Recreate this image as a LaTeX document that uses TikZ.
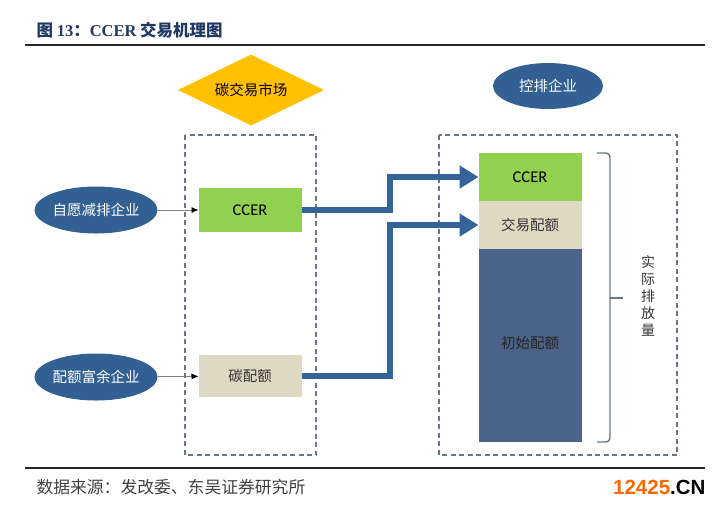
\documentclass[tikz,border=0pt]{standalone}
\usepackage{fontspec}
\setmainfont{Carlito}
\newfontfamily\cjk{Noto Sans CJK SC}
\newfontfamily\serif{Liberation Serif}
\newfontfamily\wmark{Liberation Sans}
\usetikzlibrary{positioning,shapes.geometric,arrows.meta}

\definecolor{titleblue}{RGB}{31,56,100}
\definecolor{entblue}{RGB}{50,96,146}
\definecolor{flowblue}{RGB}{51,99,153}
\definecolor{marketgold}{RGB}{255,192,0}
\definecolor{ccergreen}{RGB}{146,208,80}
\definecolor{quotabeige}{RGB}{221,217,195}
\definecolor{initblue}{RGB}{75,99,136}
\definecolor{boxgray}{RGB}{105,118,138}
\definecolor{wmorange}{RGB}{255,102,0}

\tikzset{
  firm/.style={ellipse,fill=entblue,text=white,minimum width=116pt,minimum height=47pt,
    inner sep=0pt,font=\cjk\fontsize{14.5}{17}\selectfont},
  market/.style={diamond,fill=marketgold,inner sep=0pt,aspect=2.05,
    minimum width=146pt,minimum height=71pt,font=\cjk\fontsize{14.5}{17}\selectfont},
  quota/.style={rectangle,inner sep=0pt,outer sep=0pt,minimum width=103pt,
    font=\cjk\fontsize{14.5}{17}\selectfont,text=black!80},
  ccertext/.style={font=\fontsize{16.5}{18}\selectfont,text=black},
  group/.style={draw=boxgray,line width=1.3pt,dash pattern=on 5pt off 3.5pt},
  feed/.style={draw=gray,line width=0.8pt,-{Latex[black,length=7pt,width=6pt]}},
  flow/.style={draw=flowblue,line width=6pt,-{Triangle[width=22pt,length=19pt]}},
  emitbrace/.style={draw=boxgray,line width=1.4pt,rounded corners=4pt},
  rule/.style={draw=black!85,line width=1.8pt}
}

\begin{document}
\begin{tikzpicture}[x=1pt,y=-1pt]
	\useasboundingbox (0,0) rectangle (720,509);
	\node[anchor=west,text=titleblue,font=\bfseries\fontsize{16.5}{19}\selectfont] (title) at (33,30)
		{{\cjk 图} {\serif 13}{\cjk ：}{\serif CCER} {\cjk 交易机理图}};
	\draw[rule] (25,45) -- (705,45);

	\draw[group] (185,135) rectangle (316,455);
	\draw[group] (439,135) rectangle (677,455);

	\node[market] (market) at (251,90) {碳交易市场};
	\node[firm,minimum width=110pt,minimum height=46pt] (ctrl) at (548,86) {控排企业};
	\node[firm] (vol) at (96,210) {自愿减排企业};
	\node[firm] (surplus) at (96,377) {配额富余企业};

	\node[quota,fill=ccergreen,minimum height=44pt,ccertext] (ccerL) at (250,210) {CCER};
	\node[quota,fill=quotabeige,minimum height=42pt] (carbonQ) at (250,376) {碳配额};

	\node[quota,fill=ccergreen,minimum height=48pt,ccertext] (ccerR) at (530,177) {CCER};
	\node[quota,fill=quotabeige,minimum height=48pt,below=0pt of ccerR] (tradeR) {交易配额};
	\node[quota,fill=initblue,minimum height=193pt,below=0pt of tradeR,text=black!85] (initR) {\raisebox{6pt}{初始配额}};

	\draw[feed] (vol) -- (ccerL);
	\draw[feed] (surplus) -- (carbonQ);

	\draw[flow] (ccerL.east) -- ++(88,0) |- (ccerR.west);
	\draw[flow] (carbonQ.east) -- ++(88,0) |- (tradeR.west);

	% brace
	\draw[emitbrace] (597,153) -- (610,153) -- (610,442) -- (597,442);
	\draw[emitbrace] (610,298) -- (623,298);
	\node[align=center,font=\cjk\fontsize{14}{17}\selectfont,text=black!80] (actual) at (648,296) {实\\际\\排\\放\\量};

	\draw[rule] (25,468) -- (705,468);
	\node[anchor=west,font=\cjk\fontsize{16.8}{19}\selectfont,text=black!75] (src) at (33,487) {数据来源：发改委、东吴证券研究所};
	\node[anchor=east,font=\wmark\bfseries\fontsize{20.5}{22}\selectfont] (wm) at (709,487) {\textcolor{wmorange}{12425}.CN};
\end{tikzpicture}
\end{document}
